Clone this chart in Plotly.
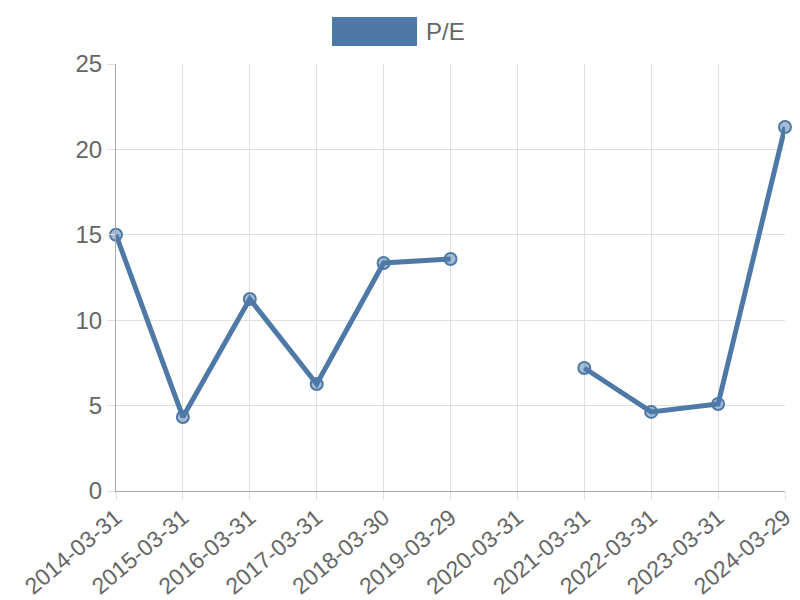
import plotly.graph_objects as go

dates = ['2014-03-31', '2015-03-31', '2016-03-31', '2017-03-31', '2018-03-30',
         '2019-03-29', '2020-03-31', '2021-03-31', '2022-03-31', '2023-03-31',
         '2024-03-29']
pe = [15.0, 4.33, 11.24, 6.26, 13.35, 13.58, None, 7.2, 4.63, 5.09, 21.31]

blue = 'rgb(78,121,167)'
grid = '#e0e0e0'
axis_line = '#a8a8a8'
font = dict(family='Liberation Sans, Arial, sans-serif', size=24, color='#666666')
xfont = dict(family='Liberation Sans, Arial, sans-serif', size=23, color='#666666')

fig = go.Figure()
fig.add_trace(go.Scatter(
    x=dates, y=pe, mode='lines+markers', name='P/E',
    connectgaps=False, cliponaxis=False, showlegend=False,
    line=dict(color=blue, width=5),
    marker=dict(size=12, color='rgba(78,121,167,0.5)', line=dict(color=blue, width=2)),
))

# legend box drawn like the original (filled rectangle + label)
fig.add_shape(type='rect', xref='paper', yref='paper',
              x0=(332 - 116) / 669, x1=(417 - 116) / 669,
              y0=(491 - 46) / 427, y1=(491 - 17) / 427,
              fillcolor=blue, line=dict(width=0))
fig.add_annotation(text='P/E', xref='paper', yref='paper',
                   x=(424 - 116) / 669, y=(491 - 32) / 427,
                   xanchor='left', yanchor='middle', showarrow=False, font=font)

# page body has an 8px margin, so the figure is sized and offset for it
fig.update_layout(
    width=792, height=592,
    margin=dict(l=108, r=15, t=56, b=109),
    plot_bgcolor='white', paper_bgcolor='white',
    font=font,
    xaxis=dict(
        type='category', showgrid=True, gridcolor=grid, gridwidth=1,
        ticks='outside', ticklen=8, tickcolor=grid, ticklabelstandoff=-5,
        showline=True, linecolor=axis_line, linewidth=1,
        tickangle=-40, tickfont=xfont, range=[0, 10], zeroline=False,
        automargin=False,
    ),
    yaxis=dict(
        range=[0, 25], dtick=5, showgrid=True, gridcolor=grid, gridwidth=1,
        ticks='outside', ticklen=8, tickcolor=grid,
        showline=True, linecolor=axis_line, linewidth=1,
        zeroline=False, tickfont=font, automargin=False,
    ),
)

fig.write_html('out.html')
